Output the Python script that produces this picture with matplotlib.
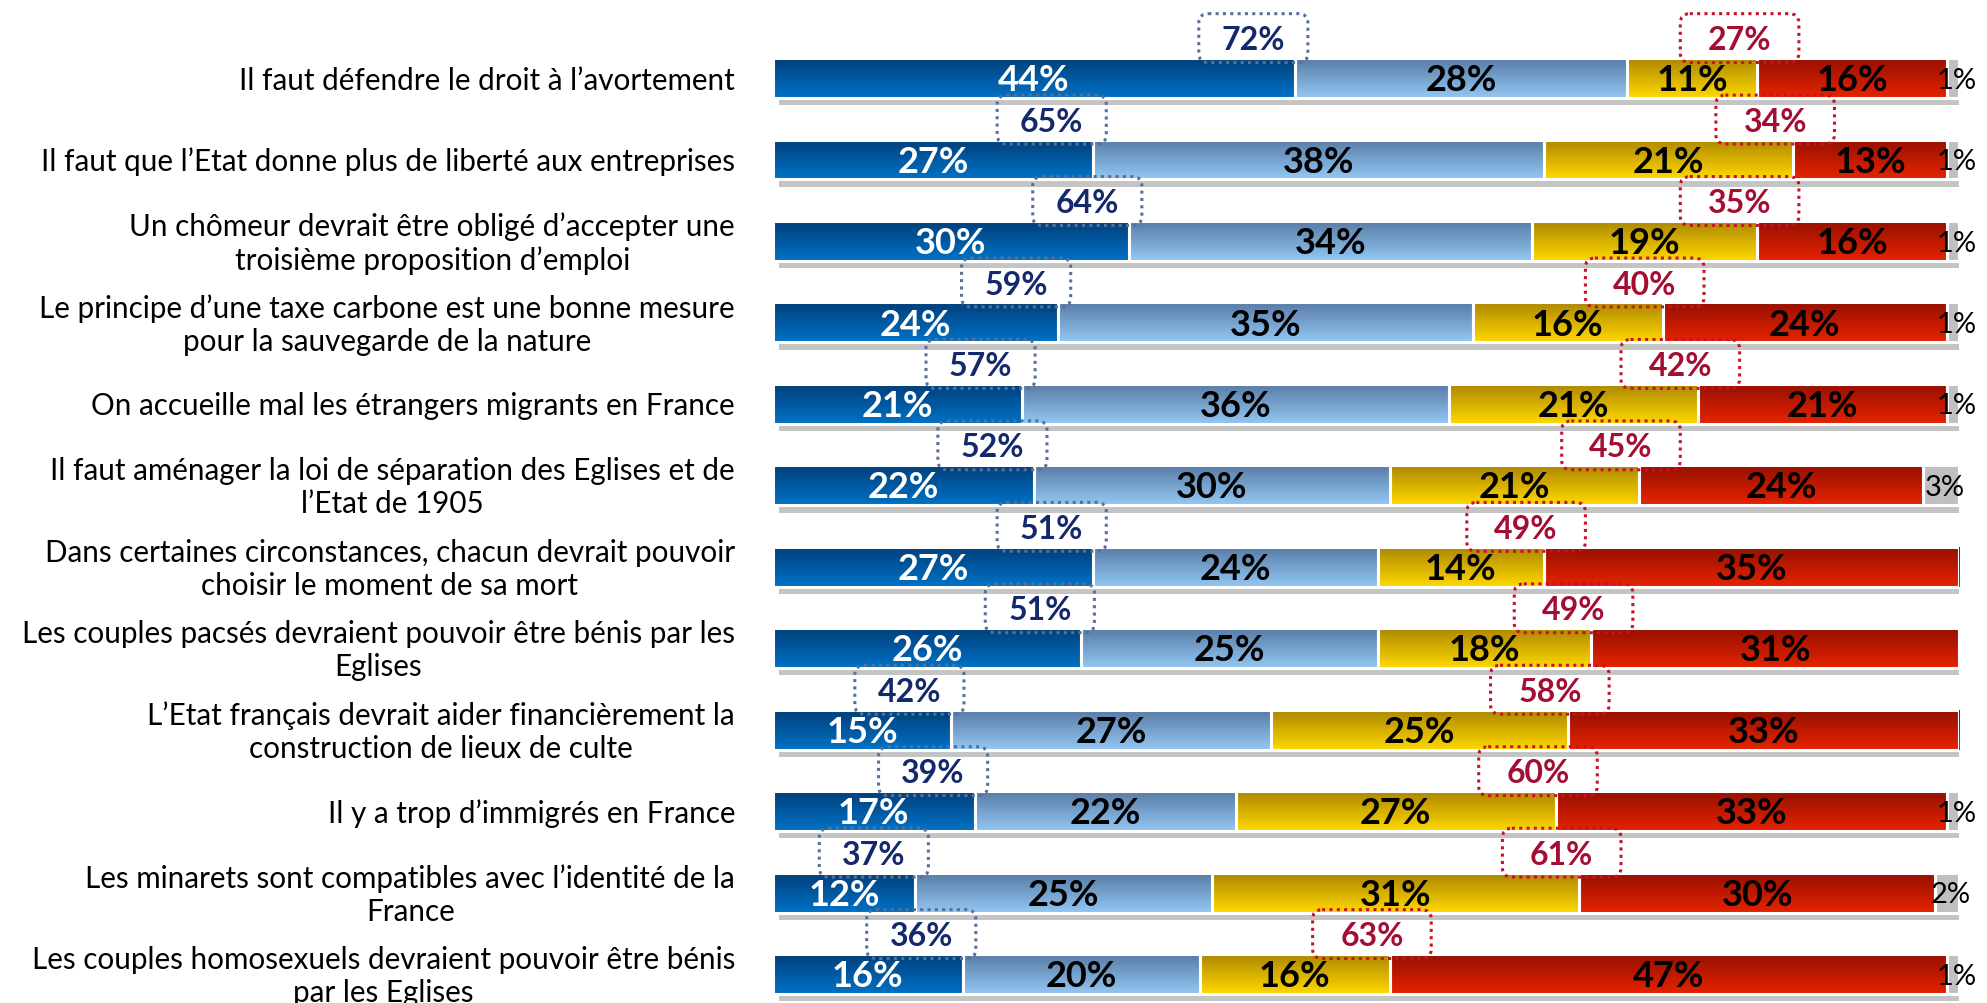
import numpy as np
import matplotlib.pyplot as plt
from matplotlib.colors import LinearSegmentedColormap
from matplotlib.patches import FancyBboxPatch, Rectangle

# items, top to bottom
items = [
    "Il faut défendre le droit à l’avortement",
    "Il faut que l’Etat donne plus de liberté aux entreprises",
    "Un chômeur devrait être obligé d’accepter une\ntroisième proposition d’emploi",
    "Le principe d’une taxe carbone est une bonne mesure\npour la sauvegarde de la nature",
    "On accueille mal les étrangers migrants en France",
    "Il faut aménager la loi de séparation des Eglises et de\nl’Etat de 1905",
    "Dans certaines circonstances, chacun devrait pouvoir\nchoisir le moment de sa mort",
    "Les couples pacsés devraient pouvoir être bénis par les\nEglises",
    "L’Etat français devrait aider financièrement la\nconstruction de lieux de culte",
    "Il y a trop d’immigrés en France",
    "Les minarets sont compatibles avec l’identité de la\nFrance",
    "Les couples homosexuels devraient pouvoir être bénis\npar les Eglises",
]
tout_a_fait = [44, 27, 30, 24, 21, 22, 27, 26, 15, 17, 12, 16]
plutot_oui = [28, 38, 34, 35, 36, 30, 24, 25, 27, 22, 25, 20]
plutot_non = [11, 21, 19, 16, 21, 21, 14, 18, 25, 27, 31, 16]
pas_du_tout = [16, 13, 16, 24, 21, 24, 35, 31, 33, 33, 30, 47]
nsp = [1, 1, 1, 1, 1, 3, 0, 0, 0, 1, 2, 1]

series = [tout_a_fait, plutot_oui, plutot_non, pas_du_tout, nsp]
# (top colour, bottom colour) for the vertical gradient of each segment
shades = [
    ('#003f7a', '#0072c6'),
    ('#587ca6', '#93c7f3'),
    ('#ad8700', '#ffd800'),
    ('#961000', '#e62300'),
    ('#c0c0c0', '#c0c0c0'),
]
text_col = ['white', 'black', 'black', 'black', 'black']

FONT = ['Lato', 'DejaVu Sans']

W, H = 1987, 1004
fig = plt.figure(figsize=(W / 100, H / 100), dpi=100)
ax = fig.add_axes([773 / W, 0, 1186 / W, 1])

n = len(items)
y = np.arange(n)
bh = 0.49
grad = np.linspace(0, 1, 64).reshape(-1, 1)

left = np.zeros(n)
totals = np.zeros(n)
for s in series:
    totals += np.array(s)

# drop shadow behind each full bar
for i in range(n):
    ax.add_patch(Rectangle((0.5, y[i] - bh / 2 + 0.09), totals[i], bh,
                           facecolor='#c4c4c4', edgecolor='none', zorder=1))

for k, s in enumerate(series):
    vals = np.array(s, dtype=float)
    bars = ax.barh(y, vals, left=left, height=bh, color=shades[k][1],
                   edgecolor='white', linewidth=2.2, zorder=2)
    cmap = LinearSegmentedColormap.from_list('g%d' % k, shades[k])
    for i, b in enumerate(bars):
        if vals[i] <= 0:
            continue
        im = ax.imshow(grad, cmap=cmap, aspect='auto', zorder=3,
                       extent=(left[i], left[i] + vals[i],
                               y[i] + bh / 2, y[i] - bh / 2),
                       interpolation='bilinear')
        im.set_clip_path(b)
        cx = left[i] + vals[i] / 2
        if k < 4:
            ax.text(cx, y[i] + 0.02, '%d%%' % vals[i], ha='center', va='center',
                    fontsize=26, fontweight='bold', color=text_col[k],
                    family=FONT, zorder=5)
        else:
            ax.text(cx + 0.3, y[i] + 0.02, '%d%%' % vals[i], ha='center',
                    va='center', fontsize=21, color='black',
                    family=FONT, zorder=5)
    # white separator lines on top of the gradients
    ax.barh(y, vals, left=left, height=bh, color='none',
            edgecolor='white', linewidth=2.2, zorder=4)
    left = left + vals

# dotted boxes with the "agree" and "disagree" totals
agree = np.array(tout_a_fait) + np.array(plutot_oui)
disagree = np.array(plutot_non) + np.array(pas_du_tout)
box_h = 0.6
asp = (1186 / 100) / (H / 12.326)
for i in range(n):
    yc = y[i] - 0.49
    for cx, bw, val, ec, tc in [
        (tout_a_fait[i] - 3.5, 9.2, agree[i], '#56709a', '#14296b'),
        (tout_a_fait[i] + plutot_oui[i] + plutot_non[i] - 1.5, 10.0,
         disagree[i], '#c8102a', '#a30e32'),
    ]:
        ax.add_patch(FancyBboxPatch((cx - bw / 2, yc - box_h / 2), bw, box_h,
                                    boxstyle='round,pad=0,rounding_size=0.8',
                                    mutation_aspect=asp, facecolor='none',
                                    edgecolor=ec, linewidth=2.2,
                                    linestyle=(0, (1, 1.4)), zorder=6))
        ax.text(cx, yc + 0.02, '%d%%' % val, ha='center', va='center',
                fontsize=23, fontweight='bold', color=tc,
                family=FONT, zorder=7)

# item labels on the left
for i in range(n):
    ax.text(-3.2, y[i] + 0.02, items[i], ha='right', va='center',
            multialignment='center', fontsize=21.3, color='black',
            family=FONT, linespacing=1.22)

ax.set_xlim(0, 100)
ax.set_ylim(11.356, -0.97)
ax.axis('off')

fig.savefig('out.png', dpi=100, facecolor='white')
